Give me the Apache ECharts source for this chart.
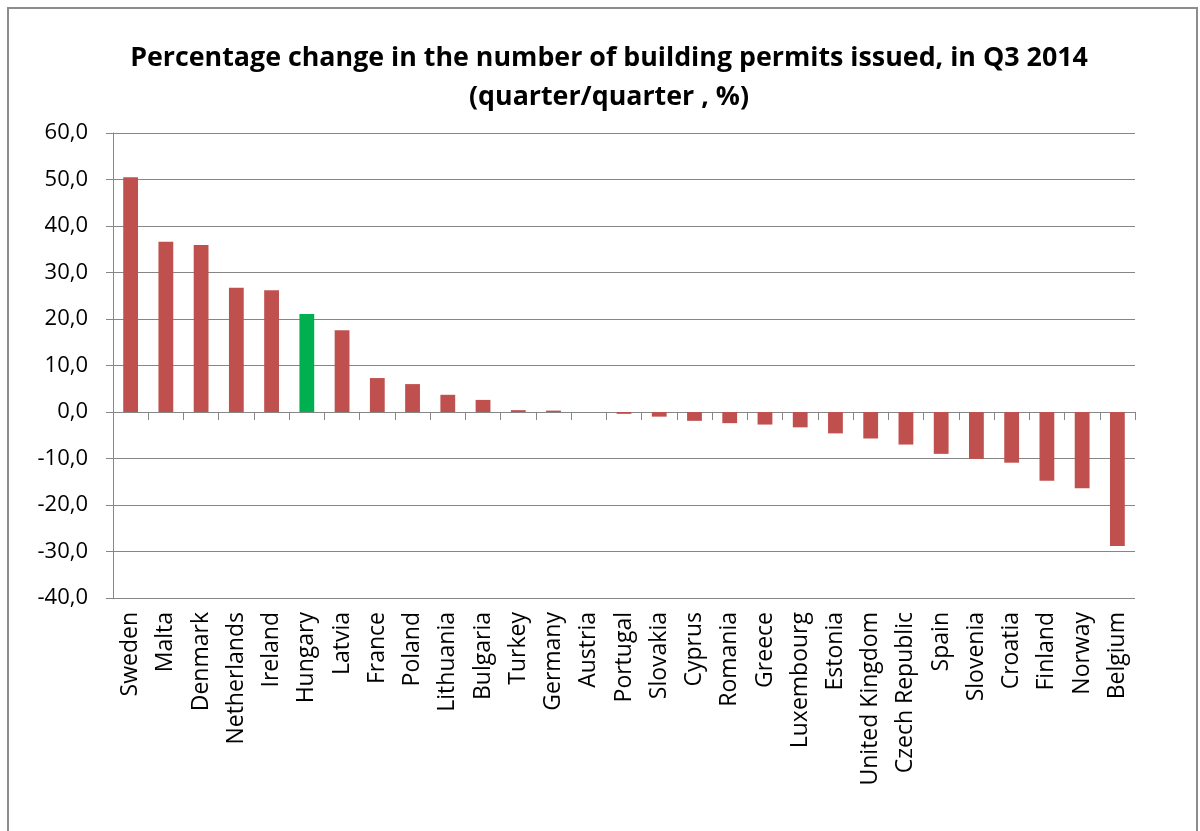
<!DOCTYPE html>
<html>
<head>
<meta charset="utf-8">
<script src="https://cdn.jsdelivr.net/npm/echarts@6/dist/echarts.min.js"></script>
<style>
html,body{margin:0;padding:0;background:#fff;}
#chart{width:1200px;height:831px;}
</style>
</head>
<body>
<div id="chart"></div>
<script>
const categories = ["Sweden","Malta","Denmark","Netherlands","Ireland","Hungary","Latvia","France","Poland","Lithuania","Bulgaria","Turkey","Germany","Austria","Portugal","Slovakia","Cyprus","Romania","Greece","Luxembourg","Estonia","United Kingdom","Czech Republic","Spain","Slovenia","Croatia","Finland","Norway","Belgium"];
const values = [50.5,36.6,35.9,26.7,26.2,21.1,17.6,7.3,6.0,3.7,2.6,0.4,0.3,0.0,-0.4,-1.0,-1.9,-2.4,-2.7,-3.3,-4.6,-5.7,-7.0,-9.0,-10.1,-10.9,-14.8,-16.4,-28.8];
const highlighted = ["Hungary"];
const yTicks = {min: -40, max: 60, interval: 10};

const FONT = '"Open Sans", "Liberation Sans", sans-serif';
const chart = echarts.init(document.getElementById('chart'), null, {renderer: 'canvas'});
const option = {
  animation: false,
  backgroundColor: '#fff',
  title: {
    text: 'Percentage change in the number of building permits issued, in Q3 2014\n(quarter/quarter , %)',
    left: 604, top: 34,
    textAlign: 'center',
    textStyle: {fontFamily: FONT, fontSize: 26.8, fontWeight: 'bold', color: '#000', lineHeight: 39}
  },
  graphic: [{
    type: 'rect', shape: {x: 8, y: 8, width: 1189, height: 840},
    style: {fill: 'none', stroke: '#8c8c8c', lineWidth: 2}, silent: true
  }],
  grid: {left: 113, right: 65, top: 133, bottom: 233, containLabel: false},
  xAxis: [{
    type: 'category', data: categories, position: 'bottom',
    axisLine: {show: false, onZero: false}, axisTick: {show: false},
    axisLabel: {rotate: 90, interval: 0, fontFamily: FONT, fontSize: 23, color: '#000', margin: 14}
  }, {
    type: 'category', data: categories, position: 'bottom',
    axisLine: {show: true, onZero: true, lineStyle: {color: '#868686', width: 1}},
    axisTick: {show: true, interval: 0, alignWithLabel: false, length: 8, lineStyle: {color: '#868686'}},
    axisLabel: {show: false, interval: 0}
  }],
  yAxis: {
    type: 'value', min: yTicks.min, max: yTicks.max, interval: yTicks.interval,
    axisLine: {show: true, lineStyle: {color: '#868686'}},
    axisTick: {show: true, length: 7, lineStyle: {color: '#868686'}},
    splitLine: {show: true, lineStyle: {color: '#868686', width: 1}},
    axisLabel: {fontFamily: FONT, fontSize: 22, color: '#000', margin: 25,
      formatter: v => v.toFixed(1).replace('.', ',')}
  },
  series: [{
    type: 'bar', xAxisIndex: 0,
    data: values.map((v, i) => ({
      value: v,
      itemStyle: {color: highlighted.includes(categories[i]) ? '#00B050' : '#C0504D'}
    })),
    barCategoryGap: '58%'
  }]
};
chart.setOption(option);
</script>
</body>
</html>
